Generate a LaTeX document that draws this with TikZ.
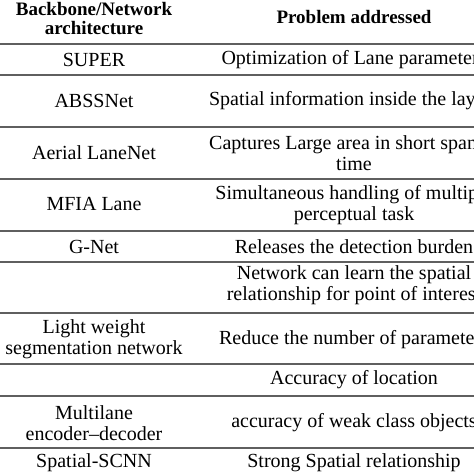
\documentclass[tikz,border=0pt]{standalone}
\usepackage{fontspec}
\setmainfont{Liberation Serif}
\definecolor{rulegray}{RGB}{95,95,95}
\tikzset{
  cell/.style={inner sep=0pt, align=center, font=\fontsize{20}{20.5}\selectfont, text=black},
  headcell/.style={cell, font=\fontsize{19}{19}\selectfont\bfseries},
  rowrule/.style={draw=rulegray, line width=1.5pt},
  headrule/.style={draw=rulegray, line width=2.2pt}
}
\begin{document}
\begin{tikzpicture}[x=1pt,y=-1pt]
\useasboundingbox (0,0) rectangle (474,474);
\clip (0,0) rectangle (474,474);
\fill[white] (0,0) rectangle (474,474);
% header
\node[headcell] (h1) at (94,19) {Backbone/Network\\architecture};
\node[headcell] (h2) at (354,17) {Problem addressed};
\draw[headrule] (0,44) -- (474,44);
% rows
\node[cell] (l1) at (94,60) {SUPER};
\node[cell] (r1) at (354,60) {Optimization of Lane parameters};
\draw[rowrule] (0,75) -- (474,75);
\node[cell] (l2) at (94,101) {ABSSNet};
\node[cell] (r2) at (354,101) {Spatial information inside the layers};
\draw[rowrule] (0,127) -- (474,127);
\node[cell] (l3) at (94,153) {Aerial LaneNet};
\node[cell] (r3) at (354,153) {Captures Large area in short span of\\time};
\draw[rowrule] (0,179) -- (474,179);
\node[cell] (l4) at (94,204) {MFIA Lane};
\node[cell] (r4) at (354,205) {Simultaneous handling of multiple\\perceptual task};
\draw[rowrule] (0,231) -- (474,231);
\node[cell] (l5) at (94,247) {G-Net};
\node[cell] (r5) at (354,247) {Releases the detection burden};
\draw[rowrule] (0,262) -- (474,262);
\node[cell] (r6) at (354,285) {Network can learn the spatial\\relationship for point of interest};
\draw[rowrule] (0,313) -- (474,313);
\node[cell] (l7) at (94,339) {Light weight\\segmentation network};
\node[cell] (r7) at (354,340) {Reduce the number of parameters};
\draw[rowrule] (0,364) -- (474,364);
\node[cell] (r8) at (354,380) {Accuracy of location};
\draw[rowrule] (0,396) -- (474,396);
\node[cell] (l9) at (94,423) {Multilane\\encoder--decoder};
\node[cell] (r9) at (354,423) {accuracy of weak class objects};
\draw[rowrule] (0,448) -- (474,448);
\node[cell] (l10) at (94,463) {Spatial-SCNN};
\node[cell] (r10) at (354,463) {Strong Spatial relationship};
\end{tikzpicture}
\end{document}
